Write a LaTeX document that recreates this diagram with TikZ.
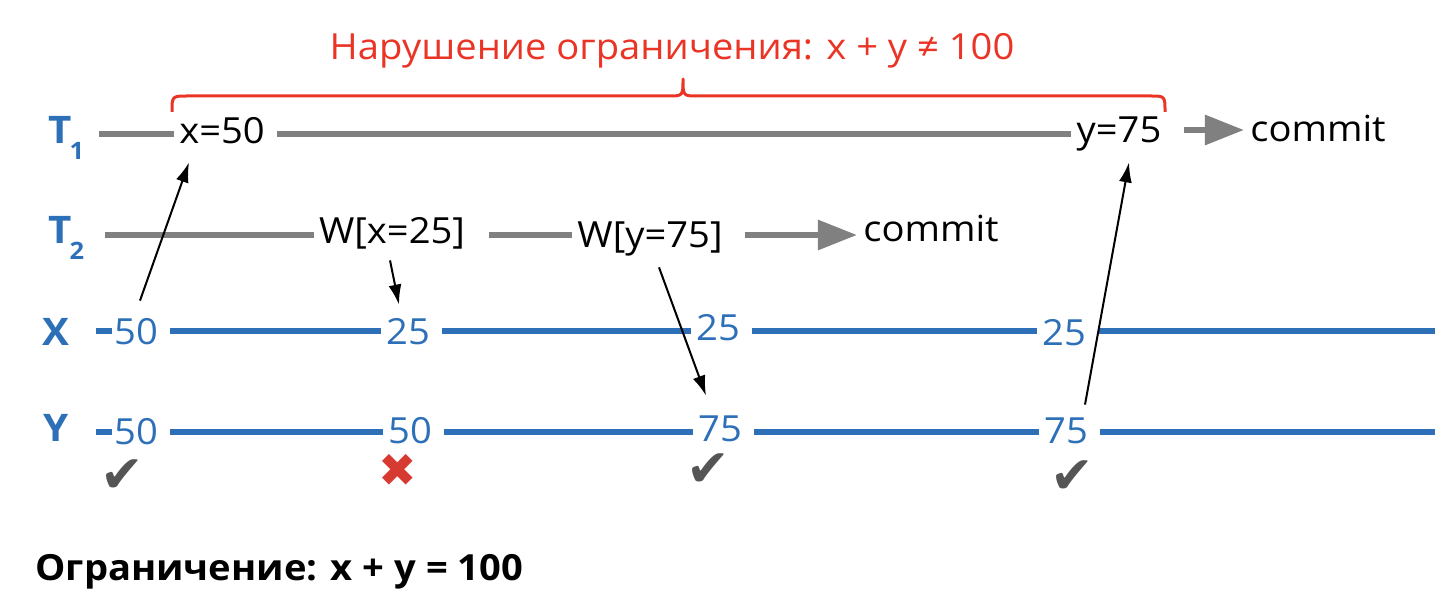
\documentclass[tikz,border=0pt]{standalone}
\usepackage{fontspec}
\setmainfont{Open Sans}[FakeStretch=1.06]
\newfontfamily\symfont{DejaVu Sans}
\usetikzlibrary{arrows.meta}
\definecolor{blu}{RGB}{46,112,184}
\definecolor{gry}{RGB}{128,128,128}
\definecolor{redv}{RGB}{234,53,38}
\definecolor{okgry}{RGB}{85,85,85}
\definecolor{nored}{RGB}{214,58,48}
\begin{document}
\begin{tikzpicture}[x=0.5pt,y=-0.5pt,font=\fontsize{18}{21}\selectfont, line join=round,
	val/.style={inner sep=0pt, text height=13pt, text depth=0pt, text=blu},
	op/.style={inner sep=0pt, text height=13pt, text depth=0pt},
	lbl/.style={text=blu, inner sep=0pt, font=\bfseries\fontsize{19}{21}\selectfont},
	tl/.style={draw=gry, line width=3pt, shorten <=6pt, shorten >=2.5pt},
	vl/.style={draw=blu, line width=3pt, shorten <=6pt, shorten >=2.5pt},
	tarr/.style={tl, shorten <=11pt, shorten >=3pt, -{Triangle[length=19.5pt,width=14.5pt]}},
	arr/.style={line width=1pt, -{Latex[length=10pt,width=6.5pt]}},
	brc/.style={draw=redv, line width=1.5pt},
	ok/.style={text=okgry, inner sep=0pt, font=\symfont\fontsize{26}{26}\selectfont},
	no/.style={text=nored, inner sep=0pt, font=\symfont\fontsize{23}{23}\selectfont}]
	\useasboundingbox (0,0) rectangle (1444,604);
	% violation
	\node[text=redv] (viol) at (672,51) {Нарушение ограничения: x + y ≠ 100};
	\draw[brc] (172,112) .. controls (172,96) .. (188,96) -- (668,96)
		.. controls (683,96) .. (683,79) .. controls (683,96) .. (698,96)
		-- (1150,96) .. controls (1165,96) .. (1165,112);
	% T1
	\node[lbl, anchor=base west] (t1) at (48,144) {T\kern-1pt\raisebox{-8pt}{\fontsize{12}{12}\selectfont 1}};
	\coordinate (t1s) at (99,134);
	\node[op] (xa) at (222,131) {x=50};
	\node[op] (ya) at (1119,130) {y=75};
	\node[op] (c1) at (1318,129) {commit};
	\draw[tl, shorten <=0pt] (t1s) -- (xa.west |- t1s);
	\draw[tl] (xa.east |- t1s) -- (ya.west |- t1s);
	\draw[tarr] (ya.east) -- (c1.west |- ya.east);
	% T2
	\node[lbl, anchor=base west] (t2) at (48,243) {T\kern-1pt\raisebox{-8pt}{\fontsize{12}{12}\selectfont 2}};
	\coordinate (t2s) at (105,235);
	\node[op] (wx) at (392,230) {W[x=25]};
	\node[op] (wy) at (650,235) {W[y=75]};
	\node[op] (c2) at (931,229) {commit};
	\draw[tl, shorten <=0pt] (t2s) -- (wx.west |- t2s);
	\draw[tl, shorten <=12pt] (wx.east |- t2s) -- (wy.west |- t2s);
	\draw[tarr] (wy.east |- t2s) -- (c2.west |- t2s);
	% X
	\node[lbl] (xl) at (56,332) {X};
	\coordinate (xs) at (96,331);
	\coordinate (xe) at (1435,331);
	\node[val] (x0) at (136,331) {50};
	\node[val] (x1) at (408,331) {25};
	\node[val] (x2) at (718,327) {25};
	\node[val] (x3) at (1064,332) {25};
	\draw[vl, shorten <=0pt, shorten >=1pt] (xs) -- (x0.west |- xs);
	\foreach \a/\b in {x0/x1,x1/x2,x2/x3}
		\draw[vl] (\a.east |- xs) -- (\b.west |- xs);
	\draw[vl, shorten >=0pt] (x3.east |- xs) -- (xe);
	% Y
	\node[lbl] (yl) at (56,428) {Y};
	\coordinate (ys) at (96,432);
	\coordinate (ye) at (1435,432);
	\node[val] (y0) at (136,431) {50};
	\node[val] (y1) at (410,430) {50};
	\node[val] (y2) at (720,428) {75};
	\node[val] (y3) at (1066,430) {75};
	\draw[vl, shorten <=0pt, shorten >=1pt] (ys) -- (y0.west |- ys);
	\foreach \a/\b in {y0/y1,y1/y2,y2/y3}
		\draw[vl] (\a.east |- ys) -- (\b.west |- ys);
	\draw[vl, shorten >=0pt] (y3.east |- ys) -- (ye);
	% reads and writes
	\draw[arr] ([shift={(4,-17)}]x0.north) -- ([shift={(-33,18)}]xa.south);
	\draw[arr] ([shift={(-2,17)}]wx.south) -- ([shift={(-9,-13)}]x1.north);
	\draw[arr] ([shift={(9,19)}]wy.south) -- ([shift={(-14,-19)}]y2.north);
	\draw[arr] ([shift={(19,-12)}]y3.north) -- ([shift={(10,19)}]ya.south);
	% checks
	\node[ok] (k0) at (122,476) {✔};
	\node[no] (k1) at (398,470) {✖};
	\node[ok] (k2) at (708,470) {✔};
	\node[ok] (k3) at (1072,477) {✔};
	% constraint
	\node[anchor=base west, inner sep=0pt, font=\bfseries\fontsize{18}{22}\selectfont] (cons) at (35,580) {Ограничение: x + y = 100};
\end{tikzpicture}
\end{document}
